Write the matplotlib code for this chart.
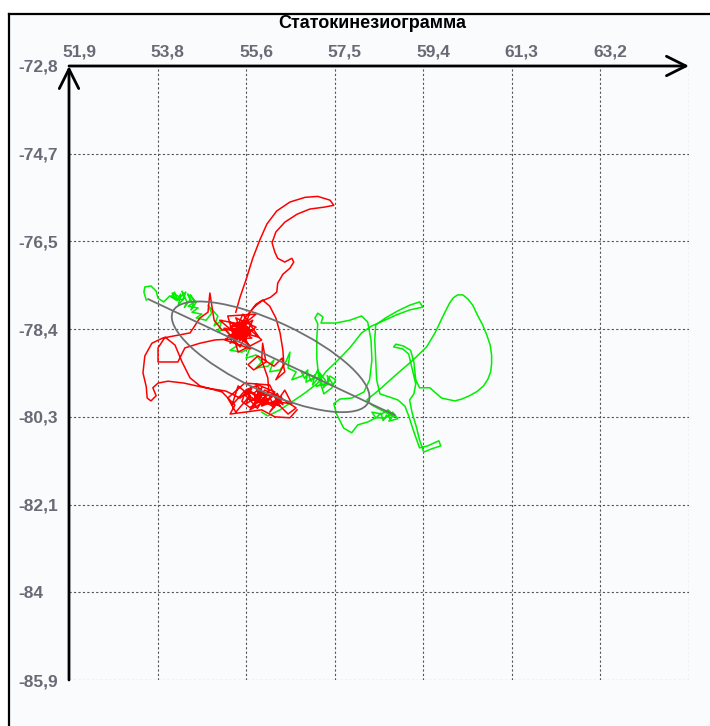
import matplotlib
matplotlib.use("Agg")
import matplotlib.pyplot as plt
import matplotlib.transforms as mtransforms
from matplotlib.patches import Ellipse, Rectangle

plt.rcParams['font.family'] = ['Liberation Sans', 'DejaVu Sans']

title = 'Статокинезиограмма'

x_ticks = [51.88, 53.76, 55.64, 57.52, 59.40, 61.28, 63.16]
x_labels = ['51,9', '53,8', '55,6', '57,5', '59,4', '61,3', '63,2']
x_max = 65.04
y_ticks = [-72.8, -74.67, -76.54, -78.41, -80.28, -82.15, -84.02, -85.89]
y_labels = ['-72,8', '-74,7', '-76,5', '-78,4', '-80,3', '-82,1', '-84', '-85,9']

# red trace (x, y)
red_x = [55.42, 55.51, 55.64, 55.78, 55.93, 56.08, 56.29, 56.57, 56.89, 57.16, 57.42, 57.50, 57.29, 56.99,
         56.72, 56.46, 56.27, 56.19, 56.25, 56.31, 56.46, 56.61, 56.65, 56.57, 56.42, 56.31, 56.29, 56.16,
         55.97, 55.83, 55.68,
         55.55, 55.34, 55.72, 55.25, 55.64, 55.42, 55.85, 55.30, 55.57, 55.91, 55.17, 55.51, 55.78, 55.36,
         55.70, 55.08, 55.61, 55.97, 55.47, 55.25, 55.85, 55.19, 55.74, 55.49, 55.66, 55.40,
         55.59, 55.42, 55.55, 55.72, 55.47, 55.64,
         55.50, 55.62, 55.45, 55.58, 55.68, 55.52, 55.40, 55.56, 55.66, 55.47, 55.60, 55.36, 55.54, 55.70,
         55.44, 55.62, 55.50, 55.74, 55.42, 55.58, 55.30, 55.52, 55.64, 55.48, 55.80, 55.56, 55.38, 55.60,
         55.13, 54.96, 54.87, 54.83, 54.66, 54.45, 54.19, 53.87, 53.64, 53.49, 53.45, 53.52, 53.54, 53.62,
         53.73, 53.66, 53.77, 53.98, 54.32, 54.77, 55.21,
         55.51, 55.76, 55.64, 55.97, 55.72, 56.10, 55.85, 56.25, 55.97, 56.40, 56.14, 56.46, 56.61, 56.27,
         56.53, 56.70, 56.31, 56.03, 55.89, 55.59, 55.34, 55.47, 55.72, 55.42, 55.25, 55.61, 56.14, 56.36,
         55.83, 55.97, 55.89, 56.19, 56.06, 55.76,
         55.60, 55.75, 55.68, 55.90, 55.78, 55.95, 55.82, 56.02, 55.70, 55.88, 56.05, 55.92, 55.80, 56.10,
         56.20, 56.32, 56.18, 56.38, 56.26, 56.42, 56.30, 56.15, 56.24, 55.98, 55.72, 55.55, 55.64, 55.85,
         55.96, 56.12,
         56.10, 55.97, 55.99, 56.06, 55.80, 55.68, 55.89, 56.23, 56.40, 56.46, 56.27,
         56.44, 56.42, 56.36, 56.27, 56.14, 55.99, 55.85, 55.72, 55.59, 55.30, 55.76,
         54.98, 54.66, 54.34, 54.19, 53.94, 53.77, 53.77, 53.92, 54.13, 54.28, 54.45, 54.66, 55.13, 55.40,
         55.30, 55.61, 55.97, 56.25, 56.57, 56.72]
red_y = [-78.05, -77.73, -77.35, -76.90, -76.51, -76.17, -75.89, -75.70, -75.60, -75.58, -75.66, -75.77,
         -75.81, -75.85, -75.96, -76.13, -76.34, -76.57, -76.77, -76.90, -76.98, -76.90, -76.98, -77.11,
         -77.24, -77.43, -77.62, -77.73, -77.81, -77.92, -78.09,
         -78.26, -78.34, -78.43, -78.56, -78.64, -78.17, -78.37, -78.71, -78.09, -78.58, -78.39, -78.79,
         -78.22, -78.47, -78.75, -78.22, -78.32, -78.64, -78.90, -78.13, -78.09, -78.64, -78.83, -78.39,
         -78.54, -78.60,
         -78.45, -78.41, -78.58, -78.49, -78.30, -78.22,
         -78.40, -78.48, -78.52, -78.35, -78.44, -78.58, -78.46, -78.30, -78.56, -78.36, -78.62, -78.52,
         -78.44, -78.38, -78.28, -78.42, -78.66, -78.50, -78.40, -78.52, -78.36, -78.34, -78.30, -78.48,
         -78.42, -78.56, -78.60, -78.40,
         -78.43, -78.22, -77.64, -78.05, -78.17, -78.49, -78.54, -78.60, -78.71, -78.98, -79.34, -79.64,
         -79.88, -79.94, -79.83, -79.66, -79.56, -79.52, -79.56, -79.66, -79.73,
         -79.88, -79.66, -80.00, -79.79, -80.13, -79.92, -79.58, -79.75, -80.05, -79.88, -80.18, -79.71,
         -80.00, -79.96, -80.22, -80.09, -79.83, -79.71, -79.96, -79.75, -80.03, -79.62, -79.83, -80.18,
         -79.88, -79.56, -79.60, -80.05,
         -79.88, -79.66, -79.81, -79.83, -80.00, -79.75,
         -79.80, -79.95, -79.72, -79.88, -80.05, -79.75, -79.84, -79.98, -79.90, -80.10, -79.82, -79.68,
         -79.78, -79.94, -79.80, -79.95, -80.02, -79.85, -79.90, -80.02, -79.78, -79.88, -80.08, -79.92,
         -80.08, -79.95, -79.70, -79.62, -80.02, -79.72,
         -79.45, -79.07, -78.71, -79.11, -79.28, -79.17, -78.98, -79.20, -79.03, -79.32, -79.49,
         -79.17, -78.86, -78.49, -78.17, -77.92, -77.79, -77.88, -78.05, -78.43, -78.26, -78.60,
         -78.64, -78.71, -78.81, -79.11, -79.11, -79.11, -78.81, -78.58, -78.75, -79.11, -79.45, -79.62,
         -79.75, -80.03, -80.22, -80.18, -80.13, -80.28, -80.30, -80.13]

# green trace (x, y)
green_x = [53.52, 53.47, 53.49, 53.62, 53.73, 53.77, 53.89, 54.02, 54.15, 54.07, 54.24, 54.36, 54.30,
           54.05, 54.12, 54.18, 54.25, 54.20, 54.32, 54.28, 54.38, 54.33, 54.45, 54.40, 54.52, 54.47, 54.58,
           54.45, 54.55, 54.41, 54.62, 54.49, 54.70, 54.58, 54.79, 54.91, 54.83, 55.04, 54.96, 55.13,
           55.04, 55.21, 55.34, 55.47, 55.30, 55.55, 55.72, 55.64, 55.85, 55.97, 55.85, 56.10, 56.23,
           56.14, 56.36, 56.48, 56.57, 56.53, 56.70, 56.61, 56.82, 56.95, 56.91, 57.08, 57.16, 57.25,
           56.80, 56.88, 56.95, 57.02, 57.10, 57.05, 57.18, 57.25, 57.20, 57.32, 57.28, 57.40, 57.36, 57.48,
           57.12, 57.33, 57.42, 57.54, 57.46,
           57.29, 57.18, 57.14, 57.14, 57.16, 57.10, 57.16, 57.27, 57.23, 57.54, 57.84, 58.09, 58.22,
           58.29, 58.31, 58.26, 58.14, 57.88, 57.63, 57.50,
           57.56, 57.71, 57.88, 58.01, 58.22, 58.39, 58.31, 58.52, 58.65, 58.77, 58.67, 58.86, 58.75, 58.60,
           58.40, 58.50, 58.55, 58.62, 58.70, 58.66, 58.78,
           58.31, 58.20, 58.48, 58.79, 59.18, 59.47, 59.66, 59.81, 59.96, 60.04, 60.13, 60.24, 60.34, 60.45,
           60.55, 60.66, 60.75, 60.82, 60.85, 60.85, 60.83, 60.77, 60.68, 60.54, 60.38, 60.22, 60.07, 59.79,
           59.64, 59.54, 59.32, 59.24, 59.20, 59.13, 58.98,
           58.82, 58.77, 58.96, 59.09, 59.16, 59.24, 59.20, 59.11, 59.16, 59.26, 59.32, 59.41, 59.58,
           59.77, 59.73, 59.49, 59.32, 59.20, 59.09, 59.01, 58.86, 58.69, 58.48, 58.41, 58.39, 58.37,
           58.39, 58.60, 58.86, 59.11, 59.32, 59.39, 59.11, 58.82, 58.54, 58.31, 58.09, 57.84, 57.59,
           57.33, 57.16, 56.89, 56.61, 56.36, 56.10, 55.97]
green_y = [-77.79, -77.62, -77.51, -77.49, -77.60, -77.75, -77.83, -77.70, -77.79, -77.64, -77.73, -77.62,
           -77.79, -77.72, -77.62, -77.80, -77.66, -77.90, -77.74, -77.60, -77.82, -77.95, -77.78, -77.66,
           -77.88, -78.00, -77.84,
           -77.68, -77.83, -77.92, -77.96, -78.05, -78.09, -78.17, -78.22, -78.07, -77.90, -78.13,
           -78.34, -78.22, -78.47, -78.39, -78.60, -78.75, -78.86, -78.90, -78.81, -79.03, -78.96, -79.11,
           -79.24, -79.20, -79.07, -79.32, -79.28, -79.11, -78.90, -79.24, -79.32, -79.49, -79.41, -79.28,
           -79.54, -79.45, -79.28, -79.49,
           -79.30, -79.46, -79.35, -79.52, -79.38, -79.60, -79.44, -79.58, -79.34, -79.50, -79.66, -79.52,
           -79.40, -79.58,
           -79.62, -79.58, -79.41, -79.49, -79.66,
           -79.79, -79.45, -79.03, -78.60, -78.30, -78.17, -78.07, -78.15, -78.28, -78.28, -78.22, -78.13,
           -78.26, -78.64, -79.07, -79.49, -79.75, -79.88, -79.90, -80.00,
           -80.22, -80.52, -80.62, -80.45, -80.39, -80.30, -80.18, -80.22, -80.13, -80.24, -80.37, -80.32,
           -80.18, -80.30,
           -80.30, -80.20, -80.36, -80.24, -80.32, -80.18, -80.28,
           -80.03, -79.92, -79.69, -79.41, -79.07, -78.79, -78.47, -78.15, -77.85, -77.74, -77.68, -77.68,
           -77.76, -77.90, -78.11, -78.32, -78.54, -78.75, -78.96, -79.15, -79.32, -79.48, -79.62, -79.74,
           -79.83, -79.90, -79.94, -79.88,
           -79.75, -79.66, -79.66, -79.49, -79.11, -78.86, -78.77,
           -78.73, -78.79, -78.83, -78.94, -79.24, -79.58, -79.79, -79.92, -80.18, -80.52,
           -80.77, -81.03, -80.96, -80.90, -80.79, -80.90, -80.94, -80.60, -80.26, -80.05, -79.92, -79.86,
           -79.79, -79.49, -79.07, -78.64, -78.32, -78.17, -78.02, -77.90, -77.83, -77.94, -78.00, -78.11,
           -78.24, -78.34, -78.49, -78.81, -79.07, -79.32, -79.56, -79.77, -79.96, -80.13, -80.26, -80.18]

# confidence ellipse: centre, width, height, angle; main axis end points
ell_center = (56.16, -79.00)
ell_width = 4.58
ell_height = 1.49
ell_angle = -25
axis_x = [53.56, 58.79]
axis_y = [-77.77, -80.24]

bg = '#fafbfd'
fig = plt.figure(figsize=(7.1, 7.26), dpi=100)
fig.patch.set_facecolor('white')
rect = Rectangle((9 / 710, 0), 1, 1 - 14 / 726, transform=fig.transFigure,
                 facecolor=bg, edgecolor='none', zorder=-10)
fig.patches.append(rect)
fig.lines.append(plt.Line2D([9 / 710, 9 / 710], [0, 1 - 14 / 726], transform=fig.transFigure,
                            color='black', lw=1.6, zorder=-5))
fig.lines.append(plt.Line2D([9 / 710, 1], [1 - 14 / 726, 1 - 14 / 726], transform=fig.transFigure,
                            color='black', lw=1.6, zorder=-5))

ax = fig.add_axes([69 / 710, 1 - 680 / 726, 620 / 710, 614 / 726])
ax.set_zorder(2)
ax.set_facecolor(bg)
ax.set_xlim(x_ticks[0], x_max)
ax.set_ylim(y_ticks[-1], y_ticks[0])
for s in ax.spines.values():
    s.set_visible(False)

grid_kw = dict(color='#555555', lw=0.8, ls=(0, (2, 2)), zorder=1)
for xv in x_ticks[1:] + [x_max]:
    ax.axvline(xv, **grid_kw)
for yv in y_ticks[1:]:
    ax.axhline(yv, **grid_kw)

ax.plot(green_x, green_y, color='#00ee00', lw=1.1, zorder=3)
ax.plot(red_x, red_y, color='#ff0000', lw=1.1, zorder=4)
ax.add_patch(Ellipse(ell_center, ell_width, ell_height, angle=ell_angle, fill=False,
                     edgecolor='#707070', lw=1.3, zorder=5))
ax.plot(axis_x, axis_y, color='#707070', lw=1.3, zorder=5)

arrow = dict(arrowstyle='->,head_length=1.4,head_width=0.7', lw=2, color='black',
             shrinkA=0, shrinkB=0, mutation_scale=10)
ax.annotate('', xy=(1, 1), xytext=(0, 1), xycoords='axes fraction', arrowprops=arrow,
            annotation_clip=False, zorder=6)
ax.annotate('', xy=(0, 1), xytext=(0, 0), xycoords='axes fraction', arrowprops=arrow,
            annotation_clip=False, zorder=6)

lab_color = '#6a6a76'
ax.xaxis.tick_top()
ax.set_xticks(x_ticks, x_labels)
ax.set_yticks(y_ticks, y_labels)
ax.tick_params(axis='x', length=0, pad=4.5, labelsize=12.5, labelcolor=lab_color)
ax.tick_params(axis='y', length=0, pad=36.5, labelsize=12.5, labelcolor=lab_color)
shift = mtransforms.ScaledTranslation(-7 / 100, 0, fig.dpi_scale_trans)
for lab in ax.get_xticklabels():
    lab.set_fontweight('bold')
    lab.set_horizontalalignment('left')
    lab.set_transform(lab.get_transform() + shift)
for lab in ax.get_yticklabels():
    lab.set_fontweight('bold')
    lab.set_horizontalalignment('left')

fig.text(372 / 710, 1 - 24 / 726, title, ha='center', va='center', fontsize=13,
         fontweight='bold', color='black')

fig.savefig('out.png', dpi=100, facecolor='white')
